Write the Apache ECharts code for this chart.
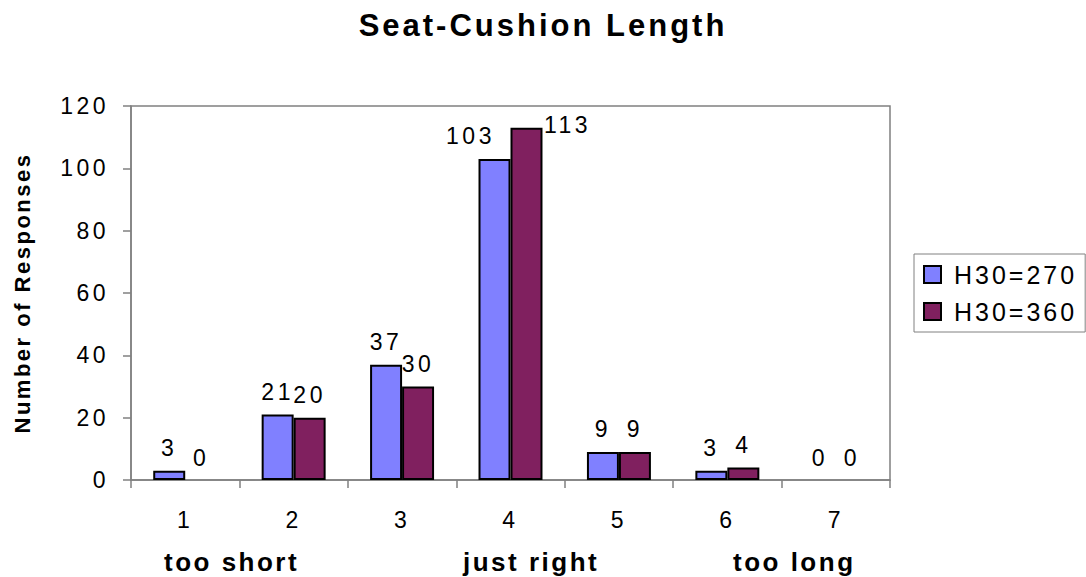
<!DOCTYPE html>
<html>
<head>
<meta charset="utf-8">
<script src="https://cdn.jsdelivr.net/npm/echarts@6/dist/echarts.min.js"></script>
<style>
  html, body { margin: 0; padding: 0; background: #fff; }
  #chart { width: 1086px; height: 577px; }
  /* wide tracking for the chart's text, keyed on each text role's font size */
  #chart text[style*="31px"] { letter-spacing: 3px; }
  #chart text[style*="23px"] { letter-spacing: 3.5px; }
  #chart text[style*="25px"] { letter-spacing: 3px; }
  #chart text[style*="26px"] { letter-spacing: 2.5px; }
  #chart text[style*="22px"] { letter-spacing: 2.5px; }
</style>
</head>
<body>
<div id="chart"></div>
<script>
// Seat-cushion length ratings (1 = too short, 4 = just right, 7 = too long)
const categories = ['1', '2', '3', '4', '5', '6', '7'];
const seriesNames = ['H30=270', 'H30=360'];
const h270 = [3, 21, 37, 103, 9, 3, 0];
const h360 = [0, 20, 30, 113, 9, 4, 0];
const yTicks = { min: 0, max: 120, interval: 20 };
const scaleNotes = ['too short', 'just right', 'too long'];

const FONT = '"Liberation Sans", Arial, sans-serif';
const GRAY = '#808080';

// zero counts get no outline; the tallest pair has its labels pushed apart
function barData(values, tallOffset) {
  return values.map((v, i) => {
    const item = { value: v };
    if (v === 0) item.itemStyle = { borderWidth: 0 };
    if (i === 3) item.label = { offset: tallOffset };
    return item;
  });
}

const valueLabel = {
  show: true, position: 'top', distance: 11,
  fontFamily: FONT, fontSize: 23, color: '#000'
};

const chart = echarts.init(document.getElementById('chart'), null, { renderer: 'svg' });

chart.setOption({
  animation: false,
  backgroundColor: '#fff',
  title: {
    text: 'Seat-Cushion Length',
    left: 'center',
    top: 5,
    padding: [5, 40, 5, 5],
    textStyle: { fontFamily: FONT, fontSize: 31, fontWeight: 'bold', color: '#000' }
  },
  legend: {
    orient: 'vertical',
    left: 914,
    top: 254,
    padding: [8, 29, 8, 9],
    itemGap: 12,
    itemWidth: 17,
    itemHeight: 17,
    borderColor: GRAY,
    borderWidth: 1,
    backgroundColor: '#fff',
    icon: 'rect',
    itemStyle: { borderColor: '#000', borderWidth: 2 },
    textStyle: { fontFamily: FONT, fontSize: 25, color: '#000', padding: [0, 0, 0, 8] },
    data: seriesNames
  },
  grid: {
    left: 131, right: 196, top: 106, bottom: 97,
    show: true, borderColor: GRAY, borderWidth: 1.5, backgroundColor: 'transparent'
  },
  xAxis: {
    type: 'category',
    data: categories,
    axisLine: { lineStyle: { color: GRAY, width: 1.5 } },
    axisTick: { show: true, length: 8, lineStyle: { color: GRAY, width: 1.5 } },
    axisLabel: { fontFamily: FONT, fontSize: 23, color: '#000', margin: 28 }
  },
  yAxis: {
    type: 'value',
    min: yTicks.min, max: yTicks.max, interval: yTicks.interval,
    name: 'Number of Responses',
    nameLocation: 'middle',
    nameGap: 98,
    nameTextStyle: { fontFamily: FONT, fontSize: 22, fontWeight: 'bold', color: '#000' },
    axisLine: { show: true, lineStyle: { color: GRAY, width: 1.5 } },
    axisTick: { show: true, length: 8, lineStyle: { color: GRAY, width: 1.5 } },
    splitLine: { show: false },
    axisLabel: { fontFamily: FONT, fontSize: 23, color: '#000', margin: 22 }
  },
  graphic: scaleNotes.map((t, i) => ({
    type: 'text',
    left: [164, 463, 733][i],
    top: 549,
    style: { text: t, font: 'bold 26px ' + FONT, fill: '#000' }
  })),
  series: [
    {
      name: seriesNames[0],
      type: 'bar',
      data: barData(h270, [-24, 0]),
      barGap: '0%',
      barCategoryGap: '41%',
      itemStyle: { color: '#8080ff', borderColor: '#000', borderWidth: 2 },
      label: valueLabel
    },
    {
      name: seriesNames[1],
      type: 'bar',
      data: barData(h360, [41, 20]),
      barGap: '0%',
      barCategoryGap: '41%',
      itemStyle: { color: '#80205f', borderColor: '#000', borderWidth: 2 },
      label: valueLabel
    }
  ]
});
</script>
</body>
</html>
